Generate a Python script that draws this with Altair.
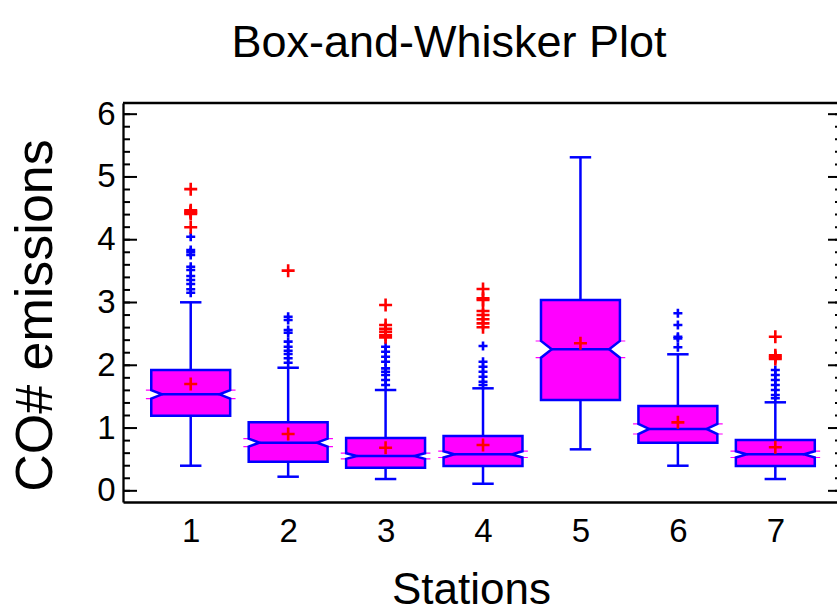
import altair as alt
import pandas as pd

# ---------------- data ----------------
chart_title = ["Box-and-Whisker Plot"]
stations = [1, 2, 3, 4, 5, 6, 7]
q1 = [1.196, 0.464, 0.368, 0.395, 1.447, 0.766, 0.395]
q3 = [1.924, 1.091, 0.841, 0.873, 3.040, 1.351, 0.809]
medians = [1.537, 0.767, 0.554, 0.581, 2.254, 0.985, 0.581]
means = [1.701, 0.905, 0.687, 0.730, 2.350, 1.091, 0.693]
whisk_lo = [0.400, 0.225, 0.188, 0.113, 0.661, 0.400, 0.188]
whisk_hi = [3.003, 1.961, 1.606, 1.633, 5.313, 2.175, 1.410]
notch_half = [0.067, 0.064, 0.045, 0.050, 0.133, 0.080, 0.050]

# outside points (blue) and far outside points (red)
out_station = ([1] * 11 + [2] * 10 + [3] * 9 + [4] * 7 + [6] * 5 + [7] * 7)
out_value = ([3.156, 3.210, 3.294, 3.358, 3.422, 3.518, 3.570, 3.757, 3.800, 3.836, 4.048]
             + [2.041, 2.111, 2.179, 2.232, 2.296, 2.376, 2.519, 2.562, 2.721, 2.774]
             + [1.686, 1.765, 1.845, 1.898, 1.951, 2.057, 2.137, 2.216, 2.296]
             + [1.686, 1.738, 1.818, 1.898, 1.977, 2.057, 2.307]
             + [2.286, 2.429, 2.455, 2.641, 2.828]
             + [1.474, 1.526, 1.606, 1.686, 1.765, 1.845, 1.924])
far_station = ([1] * 6 + [2] * 1 + [3] * 6 + [4] * 8 + [7] * 4)
far_value = ([4.198, 4.410, 4.430, 4.450, 4.470, 4.806]
             + [3.507]
             + [2.445, 2.482, 2.535, 2.580, 2.641, 2.960]
             + [2.605, 2.668, 2.732, 2.801, 2.864, 3.040, 3.067, 3.215]
             + [2.100, 2.130, 2.160, 2.455])

y_major = [0, 1, 2, 3, 4, 5, 6]
y_minor = [round(i * 0.2, 1) for i in range(31)]

# ---------------- geometry (in data units) ----------------
HALF_W = 0.405     # half box width
NOTCH_IN = 0.11    # notch indentation
CAP = 0.11         # whisker cap half width
SPIKE = 0.055

W, H = 714, 399
XDOM = [0.305, 7.633]
YDOM = [-0.178, 6.178]

BLUE = "#0000FF"
MAG = "#FF00FF"
RED = "#FF0000"
FONT = "Liberation Sans"

poly_rows = []
for s, a, b, m, nh in zip(stations, q1, q3, medians, notch_half):
    pts = [(a, 0.0), (m - nh, 0.0), (m, NOTCH_IN), (m + nh, 0.0), (b, 0.0)]
    for k, (yv, ind) in enumerate(pts):
        poly_rows.append({"station": s, "k": k, "y": yv,
                          "xl": s - HALF_W + ind, "xr": s + HALF_W - ind})
poly = pd.DataFrame(poly_rows)

box = pd.DataFrame({
    "station": stations, "q1": q1, "q3": q3, "median": medians, "mean": means,
    "lo": whisk_lo, "hi": whisk_hi,
})
box["ml"] = box["station"] - HALF_W + NOTCH_IN
box["mr"] = box["station"] + HALF_W - NOTCH_IN
box["cl"] = box["station"] - CAP
box["cr"] = box["station"] + CAP
box["bl"] = box["station"] - HALF_W - SPIKE
box["br"] = box["station"] + HALF_W + SPIKE
box["nlo"] = [m - n for m, n in zip(medians, notch_half)]
box["nhi"] = [m + n for m, n in zip(medians, notch_half)]

outs = pd.DataFrame({"station": out_station, "value": out_value})
fars = pd.DataFrame({"station": far_station, "value": far_value})
ticks_major = pd.DataFrame({"v": y_major})
ticks_minor = pd.DataFrame({"v": y_minor})
one = pd.DataFrame({"v": [0]})
title_df = pd.DataFrame({"t": chart_title})

xscale = alt.Scale(domain=XDOM, nice=False, zero=False)
yscale = alt.Scale(domain=YDOM, nice=False, zero=False)

xaxis = alt.Axis(values=stations, format="d", title="Stations", grid=False, ticks=False,
                 domainColor="black", domainWidth=2.3, labelFont=FONT, labelFontSize=33,
                 labelColor="black", labelPadding=13, titleFont=FONT, titleFontSize=44,
                 titleFontWeight="normal", titleColor="black", titleX=348, titleY=101,
                 titleBaseline="alphabetic", titleAlign="center")
yaxis = alt.Axis(values=y_major, format="d", title="CO# emissions", grid=False, ticks=False,
                 domainColor="black", domainWidth=2.3, labelFont=FONT, labelFontSize=33,
                 labelColor="black", labelPadding=8, titleFont=FONT, titleFontSize=52,
                 titleFontWeight="normal", titleColor="black", titleX=-88, titleY=212,
                 titleBaseline="middle", titleAlign="center", titleAngle=270)


def X(field):
    return alt.X(field, type="quantitative", scale=xscale, axis=xaxis, stack=None)


def Y(field):
    return alt.Y(field, type="quantitative", scale=yscale, axis=yaxis)


spikes_hi = alt.Chart(box).mark_rule(color=MAG, strokeWidth=1.2).encode(
    x=X("bl"), x2="br", y=Y("nhi"))
spikes_lo = alt.Chart(box).mark_rule(color=MAG, strokeWidth=1.2).encode(
    x=X("bl"), x2="br", y=Y("nlo"))

boxes = alt.Chart(poly).mark_area(
    orient="horizontal", color=MAG, fill=MAG, stroke=BLUE, strokeWidth=2.5,
    interpolate="linear", opacity=1
).encode(y=Y("y"), x=X("xl"), x2="xr", detail="station:N")

median_rule = alt.Chart(box).mark_rule(color=BLUE, strokeWidth=2.5).encode(
    x=X("ml"), x2="mr", y=Y("median"))

whisk_up = alt.Chart(box).mark_rule(color=BLUE, strokeWidth=2.5).encode(
    x=X("station"), y=Y("q3"), y2="hi")
whisk_dn = alt.Chart(box).mark_rule(color=BLUE, strokeWidth=2.5).encode(
    x=X("station"), y=Y("lo"), y2="q1")
cap_up = alt.Chart(box).mark_rule(color=BLUE, strokeWidth=2.5).encode(
    x=X("cl"), x2="cr", y=Y("hi"))
cap_dn = alt.Chart(box).mark_rule(color=BLUE, strokeWidth=2.5).encode(
    x=X("cl"), x2="cr", y=Y("lo"))

PLUS = "M-1,0L1,0M0,-1L0,1"
out_pts = alt.Chart(outs).mark_point(
    shape=PLUS, filled=False, stroke=BLUE, strokeWidth=2.6, size=81, opacity=1
).encode(x=X("station"), y=Y("value"))
far_pts = alt.Chart(fars).mark_point(
    shape=PLUS, filled=False, stroke=RED, strokeWidth=2.6, size=169, opacity=1
).encode(x=X("station"), y=Y("value"))
mean_pts = alt.Chart(box).mark_point(
    shape=PLUS, filled=False, stroke=RED, strokeWidth=2.6, size=169, opacity=1
).encode(x=X("station"), y=Y("mean"))

tick_l_major = alt.Chart(ticks_major).mark_rule(color="black", strokeWidth=2).encode(
    y=Y("v"), x=alt.value(0), x2=alt.value(14))
tick_l_minor = alt.Chart(ticks_minor).mark_rule(color="black", strokeWidth=2).encode(
    y=Y("v"), x=alt.value(0), x2=alt.value(7))
tick_r_major = alt.Chart(ticks_major).mark_rule(color="black", strokeWidth=2).encode(
    y=Y("v"), x=alt.value(W - 9), x2=alt.value(W))
tick_r_minor = alt.Chart(ticks_minor).mark_rule(color="black", strokeWidth=2).encode(
    y=Y("v"), x=alt.value(W - 2), x2=alt.value(W))
top_border = alt.Chart(one).mark_rule(color="black", strokeWidth=2.3).encode(
    y=alt.value(0), x=alt.value(0), x2=alt.value(W))

title_text = alt.Chart(title_df).mark_text(
    font=FONT, fontSize=45, color="black", align="center", baseline="alphabetic"
).encode(text="t:N", x=alt.value(W / 2 - 31), y=alt.value(-46))

chart = alt.layer(
    spikes_hi, spikes_lo, whisk_up, whisk_dn, cap_up, cap_dn, boxes, median_rule,
    out_pts, far_pts, mean_pts,
    tick_l_minor, tick_l_major, tick_r_minor, tick_r_major, top_border, title_text,
).properties(
    width=W, height=H,
    autosize=alt.AutoSizeParams(type="none"),
    padding={"left": 123, "top": 103, "right": 0, "bottom": 109},
).configure_view(strokeWidth=0).configure(background="white")

chart.save("out.html", embed_options={"renderer": "svg", "actions": False})
